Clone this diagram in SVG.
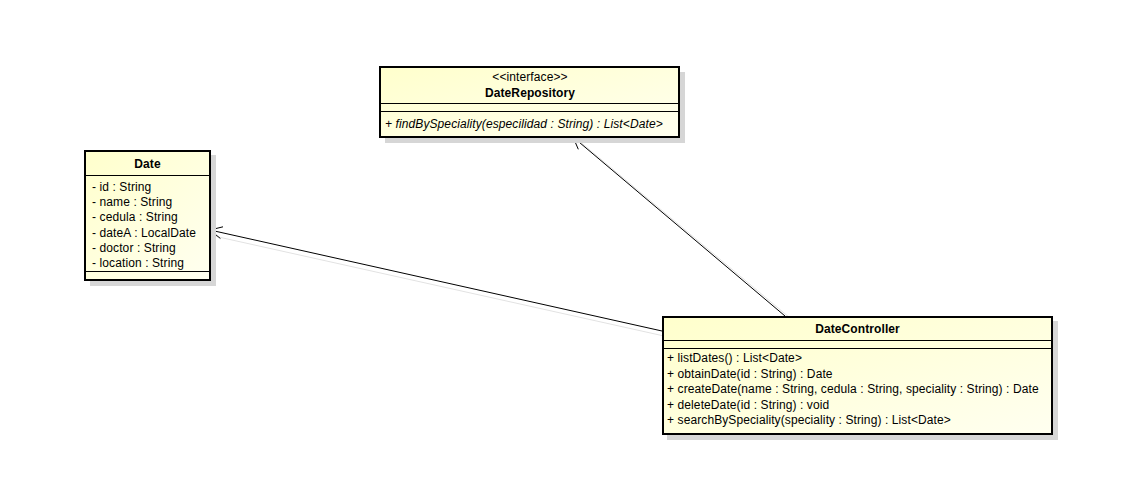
<svg xmlns="http://www.w3.org/2000/svg" width="1131" height="493" viewBox="0 0 1131 493">
<defs>
<linearGradient id="fill" x1="0" y1="0" x2="1" y2="1">
<stop offset="0" stop-color="#FFFFCC"/>
<stop offset="1" stop-color="#FFFFF0"/>
</linearGradient>
</defs>
<style>
.shadow{fill:#D6D6D6;}
.box{fill:url(#fill);stroke:#000;stroke-width:2;}
.sep{stroke:#000;stroke-width:1;fill:none;}
text{font-family:"Liberation Sans",Arial,sans-serif;font-size:12px;letter-spacing:0.1px;fill:#000;}
.b{font-weight:bold;}
.c{text-anchor:middle;}
.i{font-style:italic;}
.conn{stroke:#000;stroke-width:1;fill:none;}
.head{stroke:#000;stroke-width:1;fill:none;}
.cshadow{stroke:#E2E2E2;stroke-width:1;fill:none;}
</style>
<rect width="1131" height="493" fill="#FFFFFF"/>
<g id="connectors">
<line class="cshadow" x1="664" y1="336" x2="214" y2="236"/>
<line class="cshadow" x1="790" y1="318" x2="578" y2="140"/>
<line class="conn" x1="662" y1="331" x2="210" y2="230"/>
<polyline class="head" points="223.0,226.8 210,230 220.4,238.5"/>
<line class="conn" x1="785" y1="316" x2="573" y2="137"/>
<polyline class="head" points="586.0,140.2 573,137 578.3,149.3"/>
</g>
<g id="DateRepository">
<rect class="shadow" x="385" y="72" width="300" height="71"/>
<rect class="box" x="380" y="67" width="299" height="70"/>
<line class="sep" x1="380" y1="103.5" x2="679" y2="103.5"/>
<line class="sep" x1="380" y1="111.5" x2="679" y2="111.5"/>
<text class="c" x="530" y="81">&lt;&lt;interface&gt;&gt;</text>
<text class="b c" x="530" y="97">DateRepository</text>
<text class="i" x="385" y="128">+ findBySpeciality(especilidad : String) : List&lt;Date&gt;</text>
</g>
<g id="Date">
<rect class="shadow" x="90" y="155" width="126" height="131"/>
<rect class="box" x="85" y="151" width="125" height="129"/>
<line class="sep" x1="85" y1="175.5" x2="210" y2="175.5"/>
<line class="sep" x1="85" y1="271.5" x2="210" y2="271.5"/>
<text class="b c" x="147.5" y="168">Date</text>
<text x="92" y="191">- id : String</text>
<text x="92" y="206">- name : String</text>
<text x="92" y="221">- cedula : String</text>
<text x="92" y="237">- dateA : LocalDate</text>
<text x="92" y="252">- doctor : String</text>
<text x="92" y="267">- location : String</text>
</g>
<g id="DateController">
<rect class="shadow" x="667" y="321" width="391" height="119"/>
<rect class="box" x="663" y="317" width="389" height="117"/>
<line class="sep" x1="663" y1="340.5" x2="1052" y2="340.5"/>
<line class="sep" x1="663" y1="348.5" x2="1052" y2="348.5"/>
<text class="b c" x="857.5" y="333">DateController</text>
<text x="667" y="362">+ listDates() : List&lt;Date&gt;</text>
<text x="667" y="378">+ obtainDate(id : String) : Date</text>
<text x="667" y="393">+ createDate(name : String, cedula : String, speciality : String) : Date</text>
<text x="667" y="409">+ deleteDate(id : String) : void</text>
<text x="667" y="424">+ searchBySpeciality(speciality : String) : List&lt;Date&gt;</text>
</g>
</svg>
